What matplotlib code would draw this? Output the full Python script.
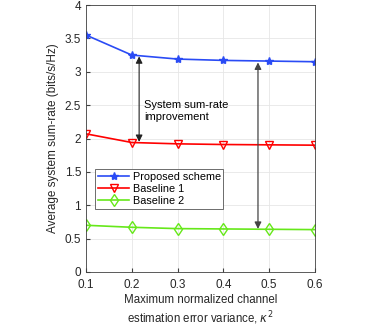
import matplotlib.pyplot as plt
import numpy as np

plt.rcParams['font.family'] = ['Liberation Sans', 'DejaVu Sans']

# data
kappa = [0.1, 0.2, 0.3, 0.4, 0.5, 0.6]
proposed = [3.55, 3.25, 3.19, 3.17, 3.16, 3.15]
baseline1 = [2.07, 1.94, 1.92, 1.91, 1.905, 1.90]
baseline2 = [0.70, 0.67, 0.65, 0.645, 0.64, 0.635]

fig = plt.figure(figsize=(3.8, 3.27), dpi=100)
ax = fig.add_axes([86 / 380, 1 - 272 / 327, 229 / 380, 267 / 327])

ax.plot(kappa, proposed, color='#2a4bf5', marker='*', markersize=6, linewidth=1.2,
        label='Proposed scheme')
ax.plot(kappa, baseline1, color='#ff0000', marker='v', markersize=6, linewidth=1.2,
        markerfacecolor='none', label='Baseline 1')
ax.plot(kappa, baseline2, color='#66e81a', marker='d', markersize=6, linewidth=1.2,
        markerfacecolor='none', label='Baseline 2')

# improvement arrows
ax.annotate('', xy=(0.216, proposed[1] - 0.02), xytext=(0.216, baseline1[1] + 0.01),
            arrowprops=dict(arrowstyle='<|-|>', color='#222222', lw=0.8,
                            mutation_scale=10, shrinkA=0, shrinkB=0))
ax.annotate('', xy=(0.4755, 3.16 - 0.02), xytext=(0.4755, 0.645),
            arrowprops=dict(arrowstyle='<|-|>', color='#444444', lw=0.9,
                            mutation_scale=10, shrinkA=0, shrinkB=0))
ax.text(0.227, 2.41, 'System sum-rate\nimprovement', fontsize=8, va='center',
        ha='left', linespacing=1.25)

ax.set_xlim(0.1, 0.6)
ax.set_ylim(0, 4)
ax.set_xticks(kappa)
ax.set_yticks([0, 0.5, 1, 1.5, 2, 2.5, 3, 3.5, 4])
ax.set_yticklabels(['0', '0.5', '1', '1.5', '2', '2.5', '3', '3.5', '4'])
ax.tick_params(direction='in', labelsize=8.5, length=3, colors='#404040',
               labelcolor='#262626')
ax.tick_params(axis='x', pad=5)
ax.grid(True, color='#e6e6e6', linewidth=0.6)
for s in ax.spines.values():
    s.set_color('#404040')
    s.set_linewidth(0.6)

ax.set_xlabel('Maximum normalized channel\nestimation error variance, $\\kappa^2$',
              fontsize=8.3, color='#262626', linespacing=1.25, labelpad=2)
ax.set_ylabel('Average system sum-rate (bits/s/Hz)', fontsize=8.5, color='#262626')

leg = ax.legend(loc='upper left', bbox_to_anchor=(0.04, 0.385), fontsize=7.8,
                fancybox=False, framealpha=1, edgecolor='#555555',
                handlelength=2.9, borderpad=0.25, labelspacing=0.2, handletextpad=0.3,
                borderaxespad=0)
leg.get_frame().set_linewidth(0.6)

fig.savefig('out.png', dpi=100)
